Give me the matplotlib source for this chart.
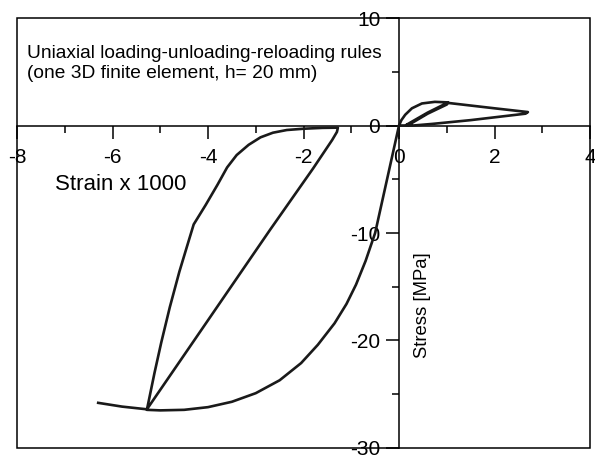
import numpy as np
import matplotlib.pyplot as plt
from matplotlib.ticker import MultipleLocator
from matplotlib.patches import Rectangle

plt.rcParams['font.family'] = ['Liberation Sans', 'DejaVu Sans']
plt.rcParams['axes.unicode_minus'] = False

# strain x 1000 / stress [MPa]
# tension: loading, unloading, reloading, softening, unloading
strain_t = [0.0, 0.05, 0.13, 0.27, 0.48, 0.75, 1.03,
            0.6, 0.15, 0.2, 0.6, 1.0, 1.03,
            2.0, 2.7, 2.65, 1.5, 0.7, 0.3, 0.1, 0.0]
stress_t = [0.0, 0.5, 1.0, 1.6, 2.05, 2.2, 2.15,
            1.2, 0.05, 0.05, 1.1, 1.95, 2.1,
            1.6, 1.25, 1.1, 0.5, 0.15, 0.0, 0.0, 0.0]

# compression envelope up to unloading point
strain_c = [0.0, -0.25, -0.5, -0.7, -0.9, -1.1, -1.35, -1.7, -2.05,
            -2.5, -3.0, -3.5, -4.0, -4.5, -5.0, -5.28]
stress_c = [0.0, -5.0, -10.0, -12.6, -14.8, -16.6, -18.4, -20.4, -22.1,
            -23.7, -24.9, -25.7, -26.2, -26.45, -26.5, -26.45]

# unloading branch
strain_u = [-5.28, -5.12, -4.98, -4.8, -4.6, -4.43, -4.3, -4.05, -3.8,
            -3.6, -3.4, -3.15, -2.9, -2.64, -2.35, -2.0, -1.6, -1.28]
stress_u = [-26.45, -23.0, -20.2, -16.9, -13.6, -11.1, -9.2, -7.4, -5.5,
            -3.9, -2.75, -1.8, -1.1, -0.67, -0.42, -0.3, -0.22, -0.2]

# reloading and continued loading
strain_r = [-1.28, -1.3, -1.4, -1.8, -2.7, -5.28, -5.8, -6.3]
stress_r = [-0.2, -0.6, -1.35, -4.0, -9.7, -26.4, -26.15, -25.8]

fig = plt.figure(figsize=(5.95, 4.57), dpi=100)
ax = fig.add_axes([0.0286, 0.0197, 0.9630, 0.9409])
ax.set_xlim(-8, 4)
ax.set_ylim(-30, 10)

strain = strain_t + strain_c + strain_u + strain_r
stress = stress_t + stress_c + stress_u + stress_r
ax.plot(strain, stress, color='#1a1a1a', lw=1.9, solid_joinstyle='round', zorder=5)

for s in ['top', 'right']:
    ax.spines[s].set_visible(False)
ax.spines['left'].set_position(('data', 0))
ax.spines['bottom'].set_position(('data', 0))
ax.spines['left'].set_linewidth(1.1)
ax.spines['bottom'].set_linewidth(1.1)
ax.add_patch(Rectangle((0, 0), 1, 1, transform=ax.transAxes, fill=False,
                       lw=1.1, ec='black', clip_on=False, zorder=4))

ax.xaxis.set_major_locator(MultipleLocator(2))
ax.xaxis.set_minor_locator(MultipleLocator(1))
ax.yaxis.set_major_locator(MultipleLocator(10))
ax.yaxis.set_minor_locator(MultipleLocator(5))
ax.tick_params(axis='both', which='major', direction='out', length=9.5, width=1.1,
               labelsize=15)
ax.tick_params(axis='both', which='minor', direction='out', length=5, width=1.1)
ax.tick_params(axis='x', which='major', pad=7)
ax.tick_params(axis='y', which='major', pad=4)

ax.text(-7.8, 7.45, 'Uniaxial loading-unloading-reloading rules\n'
        '(one 3D finite element, h= 20 mm)', fontsize=13.8, va='top',
        ha='left', linespacing=1.2)
ax.text(-5.82, -5.53, 'Strain x 1000', fontsize=16, ha='center', va='center')
ax.text(0.5, -16.7, 'Stress [MPa]', fontsize=13.3, rotation=90,
        ha='center', va='center')

fig.savefig('out.png', dpi=100)
